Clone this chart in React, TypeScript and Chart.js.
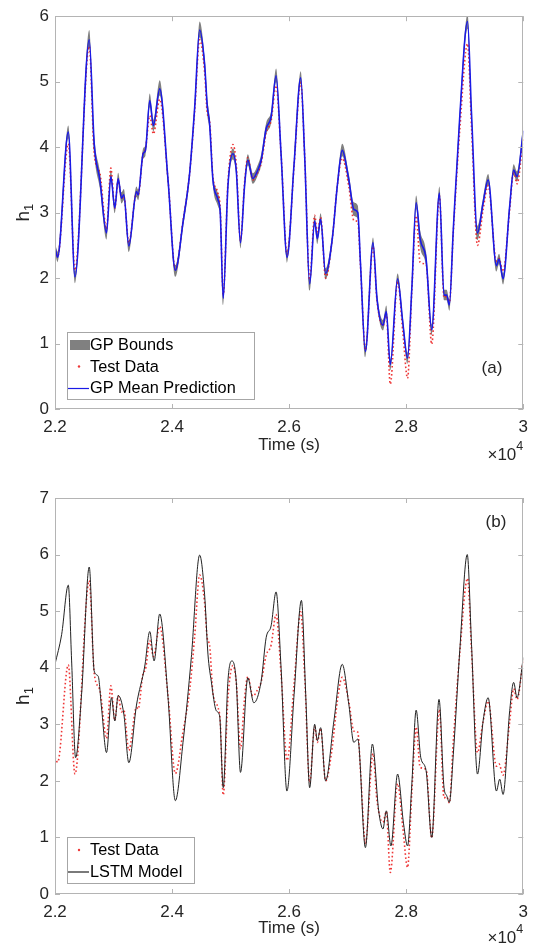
import React, { useEffect, useRef } from 'react';
import { Chart, registerables } from 'chart.js';

Chart.register(...registerables);

// ---------- data (time in seconds) ----------
const timeA = [22000, 22045, 22227, 22341, 22585, 22670, 22767, 22880, 22954, 23022, 23079, 23136, 23176, 23261, 23392, 23420, 23505, 23545, 23619, 23681, 23789, 23931, 24056, 24187, 24300, 24386, 24471, 24556, 24601, 24641, 24698, 24783, 24823, 24874, 24954, 25039, 25096, 25169, 25238, 25294, 25380, 25465, 25522, 25607, 25692, 25777, 25862, 25965, 26085, 26198, 26266, 26351, 26436, 26482, 26538, 26623, 26737, 26822, 26907, 27020, 27105, 27173, 27218, 27303, 27433, 27501, 27603, 27660, 27728, 27853, 27943, 28023, 28096, 28170, 28238, 28340, 28436, 28567, 28646, 28691, 28737, 28805, 28918, 29048, 29116, 29218, 29314, 29400, 29541, 29586, 29655, 29768, 29836, 29893, 30000];

const testData = [2.42, 2.33, 4.05, 2.12, 5.54, 3.9, 3.6, 2.75, 3.68, 3.07, 3.5, 3.22, 3.25, 2.54, 3.3, 3.27, 3.9, 3.97, 4.48, 4.2, 4.73, 3.5, 2.13, 2.87, 3.6, 4.55, 5.64, 5.15, 4.52, 4.4, 3.55, 3.3, 3.05, 1.75, 3.45, 4.04, 3.75, 2.57, 3.45, 3.84, 3.5, 3.62, 3.75, 4.22, 4.4, 4.94, 3.9, 2.36, 3.72, 4.99, 3.85, 1.97, 2.96, 2.68, 2.93, 2.0, 2.6, 3.4, 3.83, 3.4, 2.88, 2.86, 2.2, 0.9, 2.48, 1.65, 1.27, 1.46, 0.38, 1.95, 1.17, 0.47, 1.8, 2.95, 2.24, 2.2, 0.99, 3.26, 1.7, 1.72, 1.61, 2.7, 4.3, 5.58, 4.3, 2.5, 3.05, 3.41, 2.26, 2.3, 2.1, 3.05, 3.63, 3.44, 4.15];

const gpMean = [2.47, 2.32, 4.23, 2.02, 5.64, 4.05, 3.5, 2.69, 3.55, 3.07, 3.52, 3.22, 3.27, 2.49, 3.32, 3.27, 3.9, 3.95, 4.71, 4.33, 4.89, 3.5, 2.12, 2.85, 3.6, 4.6, 5.79, 5.27, 4.63, 4.36, 3.5, 3.2, 3.0, 1.69, 3.4, 3.9, 3.65, 2.54, 3.4, 3.8, 3.52, 3.65, 3.8, 4.28, 4.46, 5.09, 3.9, 2.32, 3.75, 5.06, 3.85, 1.91, 2.87, 2.6, 2.9, 2.07, 2.6, 3.4, 3.95, 3.5, 3.05, 3.0, 2.24, 0.88, 2.54, 1.69, 1.28, 1.49, 0.68, 1.99, 1.31, 0.78, 1.84, 3.15, 2.6, 2.29, 1.21, 3.3, 1.74, 1.74, 1.59, 2.75, 4.51, 5.92, 4.51, 2.69, 3.15, 3.5, 2.19, 2.29, 1.99, 3.1, 3.65, 3.55, 4.25];

const gpUpper = [2.55, 2.40, 4.33, 2.10, 5.79, 4.18, 3.63, 2.77, 3.65, 3.15, 3.61, 3.31, 3.36, 2.57, 3.40, 3.35, 3.98, 4.03, 4.82, 4.42, 5.02, 3.58, 2.20, 2.93, 3.68, 4.69, 5.92, 5.39, 4.76, 4.46, 3.59, 3.30, 3.09, 1.77, 3.48, 3.98, 3.74, 2.62, 3.48, 3.89, 3.60, 3.73, 3.89, 4.37, 4.55, 5.20, 3.98, 2.40, 3.83, 5.16, 3.93, 1.99, 2.96, 2.68, 2.99, 2.15, 2.68, 3.48, 4.05, 3.59, 3.16, 3.11, 2.32, 0.96, 2.62, 1.77, 1.36, 1.58, 0.76, 2.07, 1.40, 0.86, 1.92, 3.26, 2.73, 2.40, 1.29, 3.40, 1.82, 1.82, 1.67, 2.83, 4.60, 6.03, 4.60, 2.80, 3.23, 3.59, 2.27, 2.37, 2.07, 3.18, 3.74, 3.63, 4.33];

const gpLower = [2.39, 2.24, 4.13, 1.92, 5.53, 3.92, 3.37, 2.59, 3.47, 2.99, 3.44, 3.14, 3.19, 2.40, 3.24, 3.19, 3.82, 3.87, 4.61, 4.24, 4.79, 3.42, 2.02, 2.77, 3.52, 4.51, 5.68, 5.16, 4.50, 4.26, 3.41, 3.10, 2.91, 1.59, 3.32, 3.81, 3.56, 2.45, 3.32, 3.72, 3.44, 3.57, 3.72, 4.19, 4.37, 4.99, 3.82, 2.23, 3.67, 4.97, 3.77, 1.81, 2.79, 2.52, 2.82, 1.98, 2.52, 3.32, 3.86, 3.41, 2.95, 2.90, 2.16, 0.79, 2.46, 1.61, 1.20, 1.41, 0.59, 1.91, 1.23, 0.69, 1.76, 3.05, 2.47, 2.18, 1.12, 3.21, 1.66, 1.66, 1.50, 2.67, 4.42, 5.81, 4.42, 2.58, 3.07, 3.42, 2.10, 2.21, 1.90, 3.02, 3.57, 3.47, 4.17];

const timeB = [22000, 22114, 22227, 22284, 22352, 22454, 22585, 22670, 22738, 22795, 22880, 22966, 23022, 23079, 23176, 23261, 23392, 23534, 23619, 23693, 23789, 23931, 24056, 24187, 24329, 24471, 24556, 24613, 24670, 24755, 24812, 24874, 24954, 25022, 25096, 25169, 25294, 25397, 25522, 25607, 25692, 25777, 25862, 25962, 26085, 26210, 26283, 26351, 26436, 26482, 26538, 26623, 26765, 26907, 27020, 27105, 27173, 27303, 27422, 27530, 27603, 27660, 27739, 27853, 27955, 28023, 28096, 28170, 28249, 28340, 28436, 28561, 28646, 28691, 28737, 28805, 28918, 29043, 29116, 29218, 29314, 29400, 29541, 29598, 29655, 29768, 29836, 29893, 30000];

const lstmModel = [4.06, 4.59, 5.46, 4.12, 2.41, 3.53, 5.78, 3.94, 3.85, 3.29, 2.5, 3.47, 3.06, 3.51, 3.18, 2.32, 3.34, 4.03, 4.64, 4.12, 4.95, 3.47, 1.65, 2.68, 4.18, 5.99, 5.29, 4.24, 3.76, 3.24, 3.15, 1.88, 3.76, 4.12, 3.76, 2.15, 3.82, 3.38, 3.76, 4.53, 4.74, 5.34, 4.0, 1.82, 3.53, 5.19, 3.53, 1.88, 3.0, 2.71, 2.94, 2.0, 3.06, 4.06, 3.35, 2.68, 2.74, 0.82, 2.65, 1.47, 1.15, 1.47, 0.85, 2.12, 1.24, 0.85, 1.94, 3.25, 2.41, 2.18, 1.0, 3.44, 1.88, 1.74, 1.62, 2.47, 4.35, 6.0, 4.41, 2.12, 3.06, 3.47, 1.82, 2.03, 1.76, 3.24, 3.74, 3.47, 4.18];

const xTicks = [22000, 24000, 26000, 28000, 30000];
const xTickLabels = ['2.2', '2.4', '2.6', '2.8', '3'];
const yTicksA = [0, 1, 2, 3, 4, 5, 6];
const yTicksB = [0, 1, 2, 3, 4, 5, 6, 7];
const legendA = ['GP Bounds', 'Test Data', 'GP Mean Prediction'];
const legendB = ['Test Data', 'LSTM Model'];

// ---------- styles ----------
const FONT = "'Liberation Sans', Arial, Helvetica, sans-serif";
const FS = 17;
const TEXT = '#262626';
const AXIS = '#b4b4b4';
const BLUE = '#1a1ae6';
const RED = 'rgba(235, 20, 20, 0.85)';
const GRAY = 'rgb(128,128,128)';
const BLACK = '#222222';
const W = 536;
const H = 473;

Chart.defaults.font.family = FONT;

const toXY = (xs: number[], ys: number[]) => xs.map((x, i) => ({ x, y: ys[i] }));

type LegendItem = { text: string; kind: 'band' | 'dot' | 'line'; color: string };

function makeDecor(cfg: {
  legend: LegendItem[];
  box: [number, number, number, number];
  rowsY: number[];
  panel: string;
  panelXY: [number, number];
  expoY: number;
}) {
  return {
    id: 'decor',
    afterDraw(chart: any) {
      const { ctx, chartArea: a, scales } = chart;
      const xs = scales.x;
      const ys = scales.y;
      ctx.save();
      // frame
      ctx.strokeStyle = AXIS;
      ctx.lineWidth = 1;
      ctx.strokeRect(Math.round(a.left) + 0.5, Math.round(a.top) + 0.5, Math.round(a.right - a.left) - 1, Math.round(a.bottom - a.top) - 1);
      // inward ticks on all four sides
      const TL = 5;
      ctx.beginPath();
      xs.ticks.forEach((t: any) => {
        const p = Math.round(xs.getPixelForValue(t.value)) + 0.5;
        ctx.moveTo(p, a.bottom);
        ctx.lineTo(p, a.bottom - TL);
        ctx.moveTo(p, a.top);
        ctx.lineTo(p, a.top + TL);
      });
      ys.ticks.forEach((t: any) => {
        const p = Math.round(ys.getPixelForValue(t.value)) + 0.5;
        ctx.moveTo(a.left, p);
        ctx.lineTo(a.left + TL, p);
        ctx.moveTo(a.right, p);
        ctx.lineTo(a.right - TL, p);
      });
      ctx.stroke();

      // y title h_1
      const cy = (a.top + a.bottom) / 2;
      ctx.save();
      ctx.translate(22, cy);
      ctx.rotate(-Math.PI / 2);
      ctx.fillStyle = TEXT;
      ctx.textBaseline = 'alphabetic';
      ctx.textAlign = 'left';
      ctx.font = `19px ${FONT}`;
      const wh = ctx.measureText('h').width;
      ctx.font = `13px ${FONT}`;
      const w1 = ctx.measureText('1').width;
      const x0 = -(wh + w1) / 2;
      ctx.font = `19px ${FONT}`;
      ctx.fillText('h', x0, 6.5);
      ctx.font = `13px ${FONT}`;
      ctx.fillText('1', x0 + wh, 11);
      ctx.restore();

      // x10^4
      ctx.fillStyle = TEXT;
      ctx.textBaseline = 'middle';
      ctx.textAlign = 'right';
      ctx.font = `12.5px ${FONT}`;
      const w4 = ctx.measureText('4').width;
      ctx.fillText('4', a.right, cfg.expoY - 8);
      ctx.font = `${FS}px ${FONT}`;
      ctx.fillText('\u00d710', a.right - w4, cfg.expoY);

      // panel label
      ctx.textAlign = 'center';
      ctx.fillText(cfg.panel, cfg.panelXY[0], cfg.panelXY[1]);

      // legend
      const [bx, by, bw, bh] = cfg.box;
      ctx.fillStyle = '#ffffff';
      ctx.fillRect(bx, by, bw, bh);
      ctx.strokeStyle = '#a6a6a6';
      ctx.strokeRect(bx + 0.5, by + 0.5, bw, bh);
      cfg.legend.forEach((it, i) => {
        const y = cfg.rowsY[i];
        if (it.kind === 'band') {
          ctx.fillStyle = it.color;
          ctx.fillRect(bx + 3, y - 5, 20, 10);
        } else if (it.kind === 'dot') {
          ctx.fillStyle = it.color;
          ctx.beginPath();
          ctx.arc(bx + 12, y, 1.2, 0, Math.PI * 2);
          ctx.fill();
        } else {
          ctx.strokeStyle = it.color;
          ctx.lineWidth = 1.2;
          ctx.beginPath();
          ctx.moveTo(bx + 1, y + 0.5);
          ctx.lineTo(bx + 22, y + 0.5);
          ctx.stroke();
        }
        ctx.fillStyle = '#000000';
        ctx.textAlign = 'left';
        ctx.textBaseline = 'middle';
        ctx.font = `16.3px ${FONT}`;
        ctx.fillText(it.text, bx + 23, y + 1);
      });
      ctx.restore();
    },
  };
}

function scalesFor(yMax: number, yTicks: number[], xHeight: number, titleBottom: number) {
  return {
    x: {
      type: 'linear',
      min: 22000,
      max: 30000,
      grid: { display: false, drawTicks: false },
      border: { display: false },
      afterBuildTicks: (s: any) => {
        s.ticks = xTicks.map((v) => ({ value: v }));
      },
      afterFit: (s: any) => {
        s.height = xHeight;
      },
      ticks: {
        padding: 8,
        color: TEXT,
        font: { size: FS, family: FONT },
        maxRotation: 0,
        autoSkip: false,
        callback: (v: number) => {
          const i = xTicks.indexOf(v);
          return i >= 0 ? xTickLabels[i] : '';
        },
      },
      title: {
        display: true,
        text: 'Time (s)',
        color: TEXT,
        font: { size: FS, family: FONT },
        padding: { top: 0, bottom: titleBottom },
      },
    },
    y: {
      type: 'linear',
      min: 0,
      max: yMax,
      grid: { display: false, drawTicks: false },
      border: { display: false },
      afterBuildTicks: (s: any) => {
        s.ticks = yTicks.map((v) => ({ value: v }));
      },
      afterFit: (s: any) => {
        s.width = 55;
      },
      ticks: {
        padding: 6,
        color: TEXT,
        font: { size: FS, family: FONT },
        callback: (v: number) => String(v),
      },
    },
  };
}

const lineBase = {
  pointRadius: 0,
  pointHoverRadius: 0,
  cubicInterpolationMode: 'monotone',
  fill: false,
};

function configA(): any {
  return {
    type: 'line',
    data: {
      datasets: [
        { ...lineBase, label: 'GP Mean Prediction', data: toXY(timeA, gpMean), borderColor: BLUE, borderWidth: 1.6, order: 0 },
        { ...lineBase, label: 'Test Data', data: toXY(timeA, testData), borderColor: RED, borderWidth: 1.6, borderDash: [1.6, 2.4], order: 1 },
        { ...lineBase, label: 'GP Upper', data: toXY(timeA, gpUpper), borderColor: 'rgba(0,0,0,0)', borderWidth: 0, backgroundColor: GRAY, fill: '+1', order: 2 },
        { ...lineBase, label: 'GP Lower', data: toXY(timeA, gpLower), borderColor: 'rgba(0,0,0,0)', borderWidth: 0, order: 3 },
      ],
    },
    options: {
      responsive: false,
      animation: false,
      events: [],
      layout: { padding: { left: 0, right: 12, top: 12.5, bottom: 0 } },
      plugins: { legend: { display: false }, tooltip: { enabled: false } },
      scales: scalesFor(6, yTicksA, 64, 17),
    },
    plugins: [
      makeDecor({
        legend: [
          { text: legendA[0], kind: 'band', color: GRAY },
          { text: legendA[1], kind: 'dot', color: RED },
          { text: legendA[2], kind: 'line', color: BLUE },
        ],
        box: [67, 332, 187, 67],
        rowsY: [345, 366.5, 388],
        panel: '(a)',
        panelXY: [492, 368],
        expoY: 455,
      }),
    ],
  };
}

function configB(): any {
  return {
    type: 'line',
    data: {
      datasets: [
        { ...lineBase, label: 'LSTM Model', data: toXY(timeB, lstmModel), borderColor: BLACK, borderWidth: 1, order: 0 },
        { ...lineBase, label: 'Test Data', data: toXY(timeA, testData), borderColor: RED, borderWidth: 1.6, borderDash: [1.6, 2.4], order: 1 },
      ],
    },
    options: {
      responsive: false,
      animation: false,
      events: [],
      layout: { padding: { left: 0, right: 12, top: 25, bottom: 0 } },
      plugins: { legend: { display: false }, tooltip: { enabled: false } },
      scales: scalesFor(7, yTicksB, 52, 7),
    },
    plugins: [
      makeDecor({
        legend: [
          { text: legendB[0], kind: 'dot', color: RED },
          { text: legendB[1], kind: 'line', color: BLACK },
        ],
        box: [67, 364, 127, 46],
        rowsY: [377, 398.5],
        panel: '(b)',
        panelXY: [496, 49],
        expoY: 465,
      }),
    ],
  };
}

function Panel({ build, top }: { build: () => any; top: number }) {
  const ref = useRef<HTMLCanvasElement>(null);
  useEffect(() => {
    if (!ref.current) return;
    const chart = new Chart(ref.current, build());
    return () => chart.destroy();
  }, [build]);
  return (
    <canvas
      ref={ref}
      width={W}
      height={H}
      style={{ position: 'absolute', left: 0, top, width: W, height: H, display: 'block' }}
    />
  );
}

export default function App() {
  return (
    <div style={{ position: 'absolute', left: 0, top: 0, width: W, height: 2 * H, background: '#ffffff', overflow: 'hidden' }}>
      <Panel build={configA} top={0} />
      <Panel build={configB} top={H} />
    </div>
  );
}
